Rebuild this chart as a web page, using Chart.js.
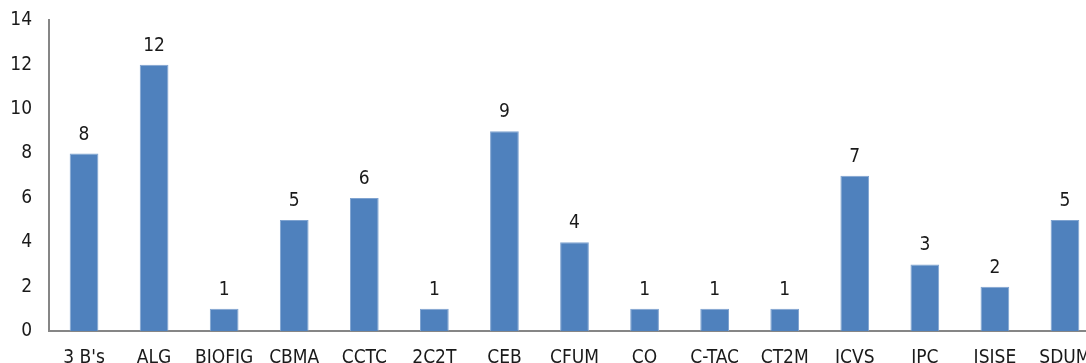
<!DOCTYPE html>
<html>
<head>
<meta charset="utf-8">
<script src="https://cdn.jsdelivr.net/npm/chart.js@4"></script>
<style>
  html, body { margin: 0; padding: 0; background: #fff; overflow: hidden; }
  #wrap { position: absolute; left: 0; top: 0; width: 1100px; height: 363px; }
</style>
</head>
<body>
<div id="wrap"><canvas id="chart"></canvas></div>
<script>
// units and number of entries per unit
const units = ["3 B's", "ALG", "BIOFIG", "CBMA", "CCTC", "2C2T", "CEB", "CFUM", "CO", "C-TAC", "CT2M", "ICVS", "IPC", "ISISE", "SDUM"];
const counts = [8, 12, 1, 5, 6, 1, 9, 4, 1, 1, 1, 7, 3, 2, 5];
const yTicks = [0, 2, 4, 6, 8, 10, 12, 14];

const font = { family: "'Liberation Sans Narrow', 'DejaVu Sans Condensed', sans-serif", size: 19 };

// draws the value above each bar
const valueLabels = {
    id: 'valueLabels',
    afterDatasetsDraw(chart) {
        const ctx = chart.ctx;
        const meta = chart.getDatasetMeta(0);
        ctx.save();
        ctx.font = font.size + 'px ' + font.family;
        ctx.fillStyle = '#1a1a1a';
        ctx.textAlign = 'center';
        ctx.textBaseline = 'alphabetic';
        meta.data.forEach((bar, i) => {
            ctx.fillText(counts[i], bar.x, bar.y - 14);
        });
        ctx.restore();
    }
};

const chart = new Chart(document.getElementById('chart'), {
    type: 'bar',
    data: {
        labels: units,
        datasets: [{
            data: counts,
            backgroundColor: '#4F81BD',
            borderColor: '#7FA3D0',
            borderWidth: 1,
            categoryPercentage: 1,
            barPercentage: 0.41
        }]
    },
    options: {
        responsive: true,
        maintainAspectRatio: false,
        animation: false,
        layout: { padding: { top: 0, right: 0, left: 0, bottom: 0 } },
        plugins: { legend: { display: false }, tooltip: { enabled: false } },
        scales: {
            x: {
                grid: { display: false },
                border: { color: '#868686', width: 2 },
                ticks: { color: '#1a1a1a', font: font, padding: 8, maxRotation: 0, autoSkip: false },
                afterFit(scale) { scale.height = 32; }
            },
            y: {
                min: 0,
                max: 14,
                grid: { display: false },
                border: { color: '#868686', width: 2 },
                afterBuildTicks(scale) { scale.ticks = yTicks.map(v => ({ value: v })); },
                ticks: { color: '#1a1a1a', font: font, padding: 9 },
                afterFit(scale) { scale.width = 49; }
            }
        }
    },
    plugins: [valueLabels]
});
</script>
</body>
</html>
